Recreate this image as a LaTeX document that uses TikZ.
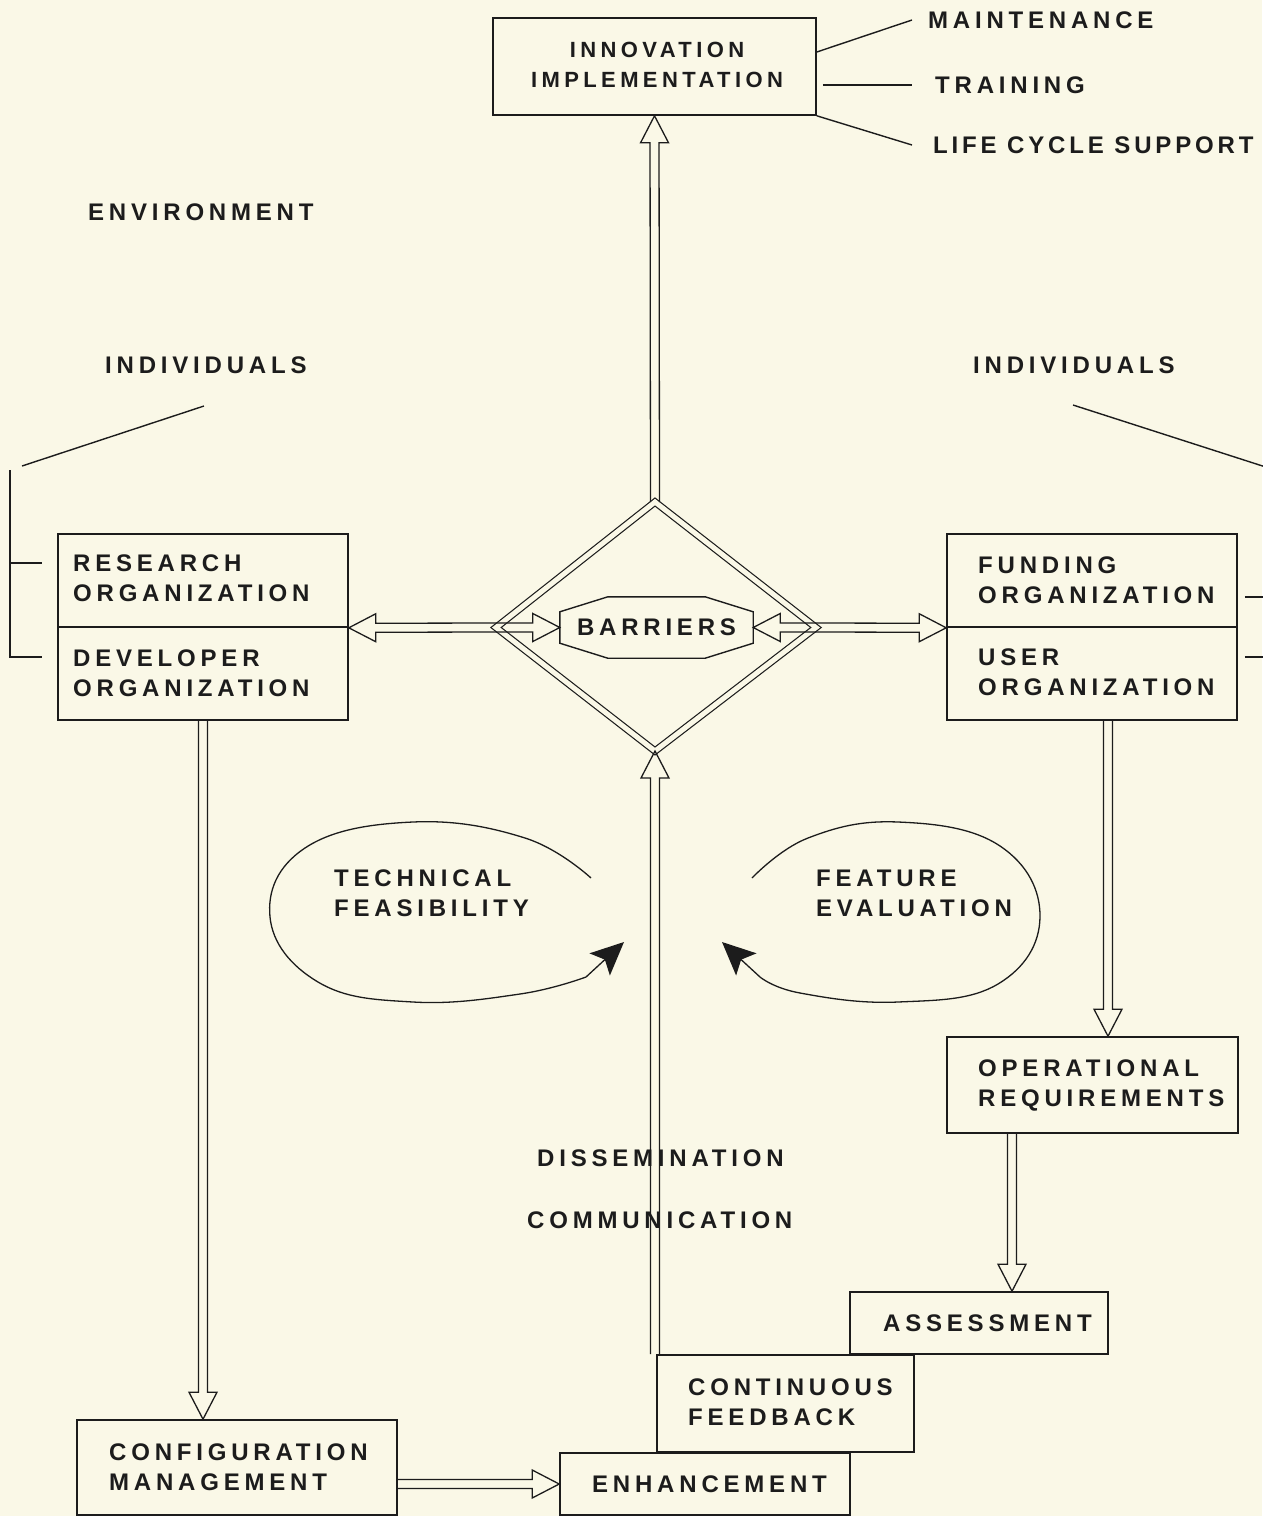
\documentclass[tikz,border=0pt]{standalone}
\usepackage{fontspec}
\newfontfamily\plotfont[LetterSpace=20]{Liberation Sans}
\newfontfamily\plotfonttight[LetterSpace=16]{Liberation Sans}
\usetikzlibrary{calc,arrows.meta}
\definecolor{paper}{RGB}{250,248,231}
\definecolor{ink}{RGB}{28,28,28}
% hollow block arrow geometry
\newcommand\shaftw{4.5pt}
\newcommand\headw{14pt}
\newcommand\headl{27pt}
\tikzset{
  box/.style={draw=ink, line width=1.6pt, rectangle, inner sep=0pt},
  lbl/.style={font=\plotfont\bfseries\fontsize{24}{30}\selectfont, text=ink, inner sep=0pt, align=left},
  thinline/.style={draw=ink, line width=1.4pt},
  hollow/.style={draw=ink, line width=1.3pt, line join=miter, to path={
    ($(\tikztostart)!\shaftw!90:(\tikztotarget)$)
    -- ($($(\tikztotarget)!\headl!(\tikztostart)$)!\shaftw!90:(\tikztotarget)$)
    -- ($($(\tikztotarget)!\headl!(\tikztostart)$)!\headw!90:(\tikztotarget)$)
    -- (\tikztotarget)
    -- ($($(\tikztotarget)!\headl!(\tikztostart)$)!\headw!-90:(\tikztotarget)$)
    -- ($($(\tikztotarget)!\headl!(\tikztostart)$)!\shaftw!-90:(\tikztotarget)$)
    -- ($(\tikztostart)!\shaftw!-90:(\tikztotarget)$)
  }},
  looparrow/.style={draw=ink, line width=1.3pt, -{Stealth[length=33pt,width=30pt,inset=7pt]}}
}
\begin{document}
\begin{tikzpicture}[x=1pt,y=-1pt]
\useasboundingbox (0,0) rectangle (1262,1516);
\fill[paper] (0,0) rectangle (1262,1516);

% boxes
\node[box, minimum width=323, minimum height=97] (innov) at (654.5,66.5) {};
\node[box, minimum width=290, minimum height=93] (rsrch) at (203,580.5) {};
\node[box, minimum width=290, minimum height=93] (dev) at (203,673.5) {};
\node[box, minimum width=290, minimum height=93] (fund) at (1092,580.5) {};
\node[box, minimum width=290, minimum height=93] (user) at (1092,673.5) {};
\node[box, minimum width=291, minimum height=96] (opreq) at (1092.5,1085) {};
\node[box, minimum width=258, minimum height=62] (assess) at (979,1323) {};
\node[box, minimum width=257, minimum height=97] (cfb) at (785.5,1403.5) {};
\node[box, minimum width=290, minimum height=62] (enh) at (705,1484) {};
\node[box, minimum width=320, minimum height=95] (config) at (237,1467.5) {};

% barriers octagon
\node[lbl, minimum width=193, minimum height=61] (bar) at (656.5,627.5) {BARRIERS};
\draw[thinline] ([xshift=48pt]bar.north west) -- ([xshift=-48pt]bar.north east)
  -- ([yshift=-15pt]bar.north east) -- ([yshift=15pt]bar.south east)
  -- ([xshift=-48pt]bar.south east) -- ([xshift=48pt]bar.south west)
  -- ([yshift=15pt]bar.south west) -- ([yshift=-15pt]bar.north west) -- cycle;

% diamond
\coordinate (dtop) at (655,502);
\coordinate (dright) at (816,627.5);
\coordinate (dbot) at (655,751);
\coordinate (dleft) at (496,627.5);
\draw[ink, line width=1.2pt, double=paper, double distance=5pt, line join=miter]
  (dtop) -- (dright) -- (dbot) -- (dleft) -- cycle;

% texts
\node[lbl, align=center, font=\plotfont\bfseries\fontsize{22}{30}\selectfont] (innovtxt) at (657,65) {INNOVATION\\IMPLEMENTATION};
\node[lbl, anchor=west] (mnt) at (928,20) {MAINTENANCE};
\node[lbl, anchor=west] (trn) at (935,85) {TRAINING};
\node[lbl, anchor=west, font=\plotfonttight\bfseries\fontsize{24}{30}\selectfont] (lcs) at (933,145) {LIFE CYCLE SUPPORT};
\node[lbl, anchor=west] (env) at (88,212) {ENVIRONMENT};
\node[lbl, anchor=west] (indl) at (105,365) {INDIVIDUALS};
\node[lbl, anchor=west] (indr) at (973,365) {INDIVIDUALS};
\node[lbl, anchor=west] (rsrchtxt) at (73,578) {RESEARCH\\ORGANIZATION};
\node[lbl, anchor=west] (devtxt) at (73,673) {DEVELOPER\\ORGANIZATION};
\node[lbl, anchor=west] (fundtxt) at (978,580) {FUNDING\\ORGANIZATION};
\node[lbl, anchor=west] (usertxt) at (978,672) {USER\\ORGANIZATION};
\node[lbl, anchor=west] (techtxt) at (334,893) {TECHNICAL\\FEASIBILITY};
\node[lbl, anchor=west] (feattxt) at (816,893) {FEATURE\\EVALUATION};
\node[lbl, anchor=west] (optxt) at (978,1085) {OPERATIONAL\\REQUIREMENTS};
\node[lbl, anchor=west] (diss) at (537,1158) {DISSEMINATION};
\node[lbl, anchor=west] (comm) at (527,1220) {COMMUNICATION};
\node[lbl, anchor=west] (assesstxt) at (883,1323) {ASSESSMENT};
\node[lbl, anchor=west] (cfbtxt) at (688,1402) {CONTINUOUS\\FEEDBACK};
\node[lbl, anchor=west] (enhtxt) at (592,1484) {ENHANCEMENT};
\node[lbl, anchor=west] (configtxt) at (109,1467) {CONFIGURATION\\MANAGEMENT};

% lines from the implementation box
\draw[thinline] (innov.east |- 0,52) -- ([xshift=-16pt]mnt.west);
\draw[thinline] ([xshift=6pt]innov.east |- trn.west) -- ([xshift=-23pt]trn.west);
\draw[thinline] (innov.south east) -- ([xshift=-21pt]lcs.west);

% individual brackets
\coordinate (lsA) at (204,406);
\coordinate (lsB) at (22,466);
\coordinate (lvT) at (10,470);
\coordinate (lvB) at (10,657);
\draw[thinline] (lsA) -- (lsB);
\draw[thinline] (lvT) -- (lvB) -- ([xshift=-15pt]dev.west |- lvB);
\draw[thinline] (lvT |- 0,563) -- ([xshift=-15pt]rsrch.west |- 0,563);
\coordinate (rsA) at (1073,405);
\coordinate (rsB) at (1275,470);
\draw[thinline] (rsA) -- (rsB);
\draw[thinline] ([xshift=7pt]fund.east |- 0,597) -- (1270,597);
\draw[thinline] ([xshift=7pt]user.east |- 0,657) -- (1270,657);

% block arrows
\draw[hollow] (dtop) to (innov.south);
\draw[hollow] (dleft) to (rsrch.south east);
\draw[hollow] (dleft) to (bar.west);
\draw[hollow] (dright) to (bar.east);
\draw[hollow] (dright) to (fund.south west);
\draw[hollow] (dbot |- cfb.north) to (dbot);
\draw[hollow] (dev.south) to (dev.south |- config.north);
\coordinate (uo) at ([xshift=16pt]user.south);
\draw[hollow] (uo) to (uo |- opreq.north);
\coordinate (oa) at ([xshift=-80.5pt]opreq.south);
\draw[hollow] (oa) to (oa |- assess.north);
\draw[hollow] (config.east |- enh.west) to (enh.west);

% evaluation loops
\draw[looparrow] plot[smooth, tension=0.7] coordinates {(591,878) (525,838) (413,822) (305,848) (270,917) (318,982) (413,1002) (520,994) (586,977)} -- (624,942);
\draw[looparrow] plot[smooth, tension=0.7] coordinates {(752,878) (808,838) (898,822) (1000,846) (1040,917) (998,984) (898,1002) (800,993) (760,977)} -- (722,942);
\end{tikzpicture}
\end{document}
